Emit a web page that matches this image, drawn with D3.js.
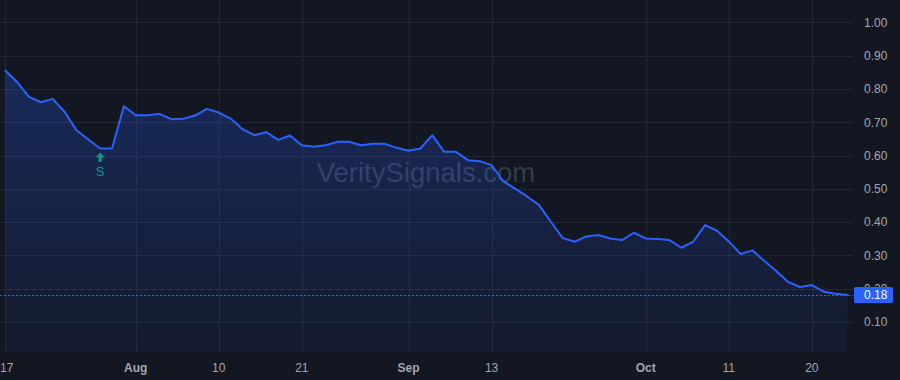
<!DOCTYPE html>
<html>
<head>
<meta charset="utf-8">
<script src="https://cdn.jsdelivr.net/npm/d3@7/dist/d3.min.js"></script>
<style>
  html, body { margin: 0; padding: 0; background: #131722; }
  svg { display: block; }
  text { font-family: "Liberation Sans", Arial, sans-serif; }
</style>
</head>
<body>
<svg id="chart" width="900" height="380"></svg>
<script>
// ---- data ----
const pointIndex = d3.range(72);
const prices = [
  0.855, 0.82, 0.776, 0.76, 0.77, 0.731, 0.676, 0.648, 0.621, 0.621,
  0.748, 0.721, 0.721, 0.725, 0.709, 0.71, 0.72, 0.74, 0.729, 0.711,
  0.679, 0.661, 0.67, 0.647, 0.66, 0.631, 0.626, 0.631, 0.641, 0.641,
  0.631, 0.635, 0.635, 0.623, 0.614, 0.621, 0.661, 0.611, 0.611, 0.586,
  0.583, 0.571, 0.522, 0.5, 0.477, 0.451, 0.401, 0.352, 0.341, 0.357,
  0.361, 0.351, 0.346, 0.368, 0.351, 0.349, 0.346, 0.323, 0.341, 0.391,
  0.374, 0.342, 0.304, 0.315, 0.283, 0.253, 0.22, 0.205, 0.211, 0.191,
  0.185, 0.181
];
const xTickIndex = [0, 11, 18, 25, 34, 41, 54, 61, 68];
const xTickLabels = ["17", "Aug", "10", "21", "Sep", "13", "Oct", "11", "20"];
const xTickBold = [false, true, false, false, true, false, true, false, false];
const yTicks = [0.1, 0.2, 0.3, 0.4, 0.5, 0.6, 0.7, 0.8, 0.9, 1.0];
const lastValueLabel = "0.18";
const markerIndex = [8];
const markerLabels = ["S"];
const watermark = "VeritySignals.com";

// ---- layout ----
const W = 900, H = 380;
const plotRight = 853, plotBottom = 352;
const svg = d3.select("#chart");
svg.append("rect").attr("width", W).attr("height", H).attr("fill", "#131722");

const x = d3.scaleLinear().domain([0, 71]).range([5.3, 847.4]);
const y = d3.scaleLinear().domain([0, 1]).range([355.3, 22.3]);

const gridColor = "#232734";
const textColor = "#a3a6af";

// horizontal grid
svg.append("g").selectAll("line").data(yTicks).join("line")
  .attr("x1", 0).attr("x2", plotRight)
  .attr("y1", d => Math.round(y(d)) + 0.5).attr("y2", d => Math.round(y(d)) + 0.5)
  .attr("stroke", gridColor).attr("stroke-width", 1);

// vertical grid
svg.append("g").selectAll("line").data(xTickIndex).join("line")
  .attr("x1", d => Math.round(x(d)) + 0.5).attr("x2", d => Math.round(x(d)) + 0.5)
  .attr("y1", 0).attr("y2", plotBottom)
  .attr("stroke", gridColor).attr("stroke-width", 1);

// watermark
svg.append("text")
  .attr("x", 426).attr("y", 182)
  .attr("text-anchor", "middle")
  .attr("font-size", 27.5)
  .attr("fill", "#8e98b3").attr("fill-opacity", 0.3)
  .text(watermark);

// area gradient
const defs = svg.append("defs");
const grad = defs.append("linearGradient").attr("id", "areaGrad")
  .attr("gradientUnits", "userSpaceOnUse")
  .attr("x1", 0).attr("x2", 0).attr("y1", y(d3.max(prices))).attr("y2", plotBottom);
grad.append("stop").attr("offset", "0%").attr("stop-color", "#2962ff").attr("stop-opacity", 0.26);
grad.append("stop").attr("offset", "100%").attr("stop-color", "#2962ff").attr("stop-opacity", 0.05);

const area = d3.area()
  .x((d, i) => x(pointIndex[i]))
  .y0(plotBottom)
  .y1(d => y(d));
svg.append("path").datum(prices)
  .attr("d", area).attr("fill", "url(#areaGrad)");

// last value dotted line
const lastV = prices[prices.length - 1];
svg.append("line")
  .attr("x1", 0).attr("x2", plotRight)
  .attr("y1", Math.round(y(lastV)) + 0.5).attr("y2", Math.round(y(lastV)) + 0.5)
  .attr("stroke", "#2962ff").attr("stroke-width", 1)
  .attr("stroke-dasharray", "2,2");

// line
const line = d3.line()
  .x((d, i) => x(pointIndex[i]))
  .y(d => y(d));
svg.append("path").datum(prices)
  .attr("d", line).attr("fill", "none")
  .attr("stroke", "#2962ff").attr("stroke-width", 2)
  .attr("stroke-linejoin", "round").attr("stroke-linecap", "round");

// markers
const mk = svg.append("g");
markerIndex.forEach((mi, k) => {
  const mx = x(mi);
  const my = y(prices[mi]) + 4;
  mk.append("path")
    .attr("d", `M${mx},${my} L${mx + 4.5},${my + 5} L${mx + 1.6},${my + 5} L${mx + 1.6},${my + 9.5} L${mx - 1.6},${my + 9.5} L${mx - 1.6},${my + 5} L${mx - 4.5},${my + 5} Z`)
    .attr("fill", "#089981");
  mk.append("text")
    .attr("x", mx).attr("y", my + 23.5)
    .attr("text-anchor", "middle").attr("font-size", 13)
    .attr("fill", "#089981")
    .text(markerLabels[k]);
});

// x axis labels
const xl = svg.append("g");
xTickIndex.forEach((ti, k) => {
  const t = xl.append("text")
    .attr("x", x(ti)).attr("y", 371.5)
    .attr("text-anchor", "middle").attr("font-size", 12)
    .attr("font-weight", xTickBold[k] ? "bold" : "normal")
    .attr("fill", textColor)
    .text(xTickLabels[k]);
  const w = t.node().getComputedTextLength();
  if (x(ti) - w / 2 < 0) t.attr("text-anchor", "start").attr("x", 0);
});

// y axis labels
svg.append("g").selectAll("text").data(yTicks).join("text")
  .attr("x", 864).attr("y", d => y(d) + 4.3)
  .attr("font-size", 12)
  .attr("fill", textColor)
  .text(d => d3.format(".2f")(d));

// last value label
const ly = y(lastV);
svg.append("rect")
  .attr("x", 854).attr("y", ly - 8).attr("width", 39).attr("height", 16)
  .attr("rx", 1.5)
  .attr("fill", "#2962ff");
svg.append("text")
  .attr("x", 864).attr("y", ly + 4.3)
  .attr("font-size", 12).attr("fill", "#ffffff")
  .text(lastValueLabel);
</script>
</body>
</html>
